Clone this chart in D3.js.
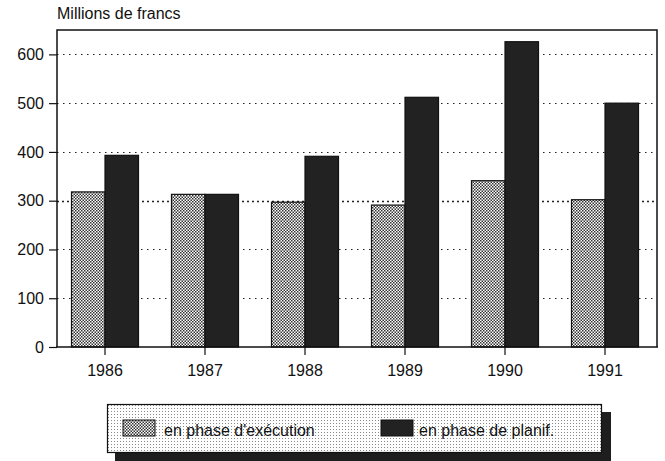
<!DOCTYPE html>
<html><head><meta charset="utf-8">
<script src="https://cdn.jsdelivr.net/npm/d3@7"></script>
<style>
body{margin:0;background:#fff;}
svg{display:block;font-family:"Liberation Sans",Arial,Helvetica,sans-serif;}
</style></head>
<body><svg id="c" width="665" height="461"></svg>
<script>
const years = ["1986","1987","1988","1989","1990","1991"];
const execution = [318, 313, 297, 291, 341, 302];
const planification = [393, 313, 391, 512, 626, 500];
const seriesNames = ["en phase d'exécution", "en phase de planif."];
const yTicks = [0, 100, 200, 300, 400, 500, 600];
const yTitle = "Millions de francs";

(function(){
const svg = d3.select("#c");
const defs = svg.append("defs");
const p1 = defs.append("pattern").attr("id","stip").attr("patternUnits","userSpaceOnUse")
  .attr("width",3).attr("height",3);
p1.append("rect").attr("width",3).attr("height",3).attr("fill","#fff");
p1.append("rect").attr("x",0).attr("y",0).attr("width",1.5).attr("height",1.5).attr("fill","#333");
p1.append("rect").attr("x",1.5).attr("y",1.5).attr("width",1.5).attr("height",1.5).attr("fill","#333");
const p2 = defs.append("pattern").attr("id","lstip").attr("patternUnits","userSpaceOnUse")
  .attr("width",3).attr("height",3);
p2.append("rect").attr("width",3).attr("height",3).attr("fill","#fff");
p2.append("rect").attr("x",0).attr("y",0).attr("width",1).attr("height",1).attr("fill","#888");

const mLeft = 57, mRight = 657, mTop = 30, mBottom = 347;
const y = d3.scaleLinear().domain([0, 650]).range([mBottom, mTop]);
const x = d3.scaleBand().domain(years).range([55, 655]);
const inner = d3.scaleBand().domain(["exe","plan"]).range([0, 67]);

svg.append("g").selectAll("line").data(yTicks.filter(d => d > 0)).join("line")
  .attr("x1", mLeft).attr("x2", mRight)
  .attr("y1", d => Math.round(y(d)) + 0.5).attr("y2", d => Math.round(y(d)) + 0.5)
  .attr("stroke", "#222")
  .attr("stroke-width", d => d === 300 ? 1.6 : 1.2)
  .attr("stroke-dasharray", d => d === 300 ? "2,3" : "1.5,4.5");

const rows = years.map((yr, i) => ({yr, exe: execution[i], plan: planification[i]}));
const g = svg.append("g");
rows.forEach(r => {
  const cx = x(r.yr) + x.bandwidth() / 2;
  g.append("rect")
    .attr("x", cx - 33.5 + inner("exe")).attr("width", inner.bandwidth())
    .attr("y", y(r.exe)).attr("height", y(0) - y(r.exe))
    .attr("fill", "url(#stip)").attr("stroke", "#111").attr("stroke-width", 1.2);
  g.append("rect")
    .attr("x", cx - 33.5 + inner("plan")).attr("width", inner.bandwidth())
    .attr("y", y(r.plan)).attr("height", y(0) - y(r.plan))
    .attr("fill", "#222").attr("stroke", "#111").attr("stroke-width", 1.2);
});

svg.append("path")
  .attr("d", `M${mLeft},${mBottom}V${mTop}H${mRight}V${mBottom}`)
  .attr("fill", "none").attr("stroke", "#111").attr("stroke-width", 1.5);
svg.append("line").attr("x1", mLeft - 1).attr("x2", mRight + 1)
  .attr("y1", mBottom).attr("y2", mBottom).attr("stroke", "#111").attr("stroke-width", 1.5);

const ya = svg.append("g").attr("transform", `translate(${mLeft},0)`)
  .call(d3.axisLeft(y).tickValues(yTicks).tickSize(8).tickPadding(5));
ya.select(".domain").remove();
ya.selectAll("line").attr("stroke", "#111").attr("stroke-width", 1.2);
ya.selectAll("text").attr("font-size", 16).attr("fill", "#111")
  .attr("font-family", "Liberation Sans, Arial, sans-serif");

const xa = svg.append("g").attr("transform", `translate(0,${mBottom})`)
  .call(d3.axisBottom(x).tickSize(8).tickPadding(10));
xa.select(".domain").remove();
xa.selectAll("line").attr("stroke", "#111").attr("stroke-width", 1.2);
xa.selectAll("text").attr("font-size", 16).attr("fill", "#111")
  .attr("font-family", "Liberation Sans, Arial, sans-serif");

svg.append("text").attr("x", 57).attr("y", 19).attr("font-size", 16).attr("fill", "#111")
  .text(yTitle);

const lg = svg.append("g");
lg.append("rect").attr("x", 115).attr("y", 412).attr("width", 496).attr("height", 49).attr("fill", "#1e1e1e");
lg.append("rect").attr("x", 107.5).attr("y", 404.5).attr("width", 494).attr("height", 48)
  .attr("fill", "url(#lstip)").attr("stroke", "#111").attr("stroke-width", 1.2);
const items = [
  {name: seriesNames[0], fill: "url(#stip)", sx: 123, tx: 164},
  {name: seriesNames[1], fill: "#222", sx: 381, tx: 419}
];
items.forEach(it => {
  lg.append("rect").attr("x", it.sx).attr("y", 420).attr("width", 32).attr("height", 16)
    .attr("fill", it.fill).attr("stroke", "#111").attr("stroke-width", 1);
  lg.append("text").attr("x", it.tx).attr("y", 436).attr("font-size", 16).attr("fill", "#111")
    .text(it.name);
});
})();
</script></body></html>
